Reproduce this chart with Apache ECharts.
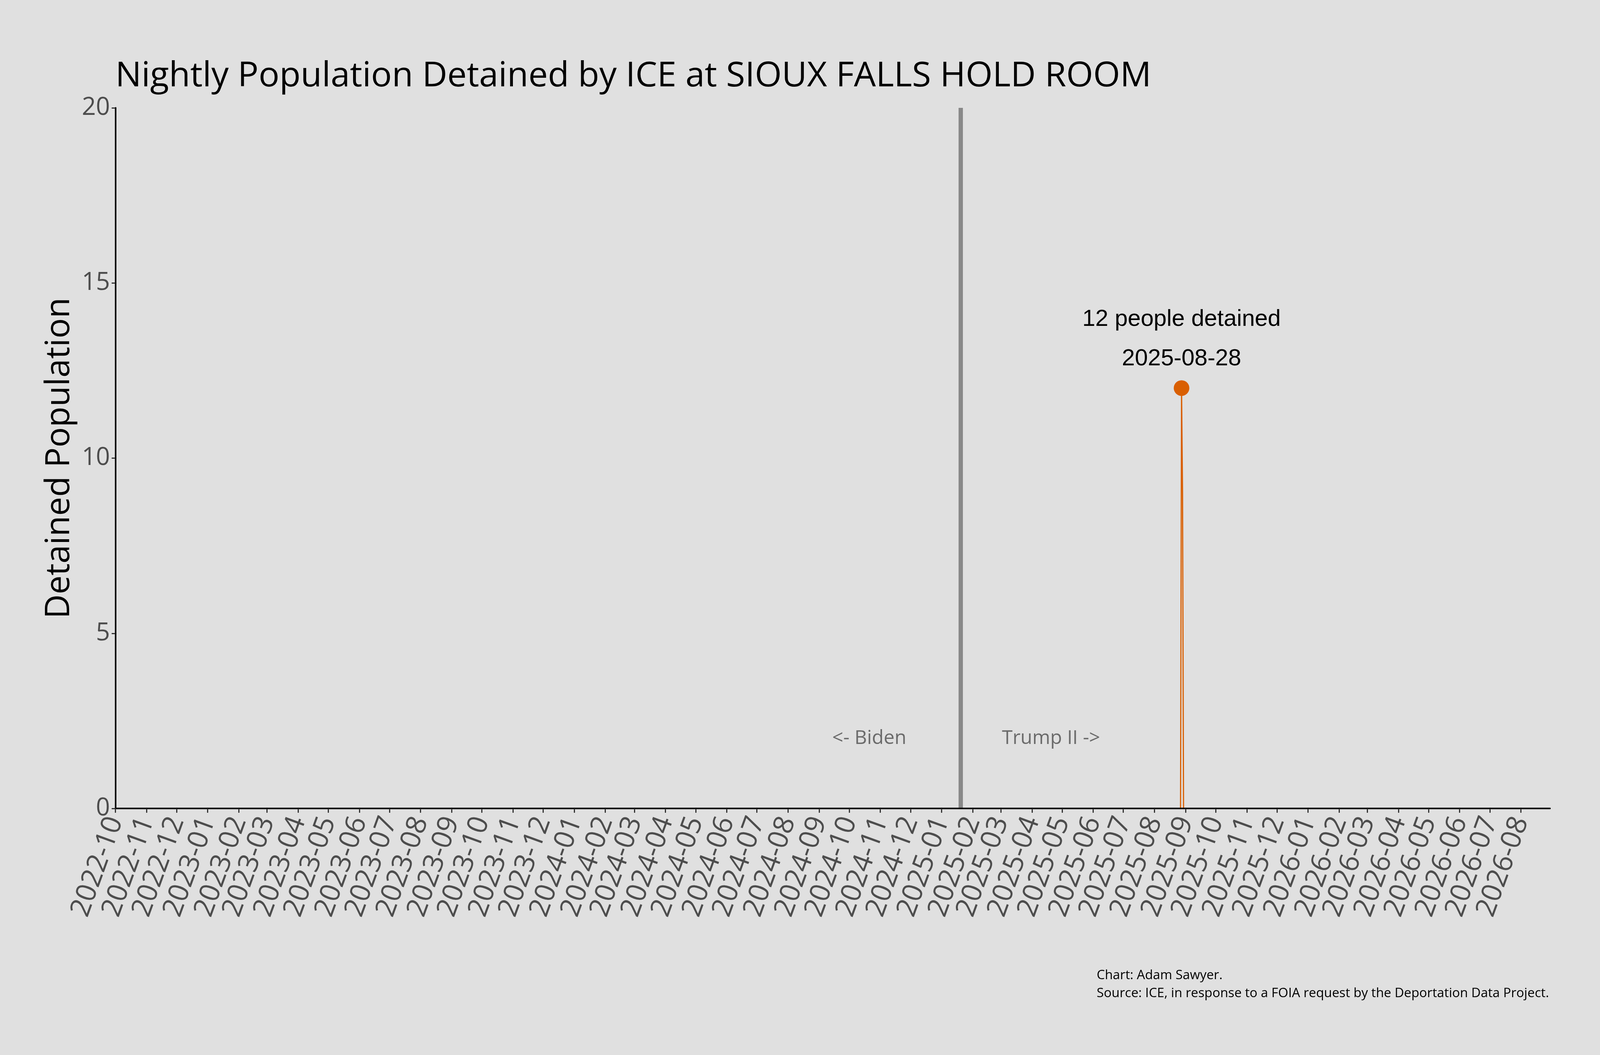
<!DOCTYPE html>
<html>
<head>
<meta charset="utf-8">
<script src="https://cdn.jsdelivr.net/npm/echarts@6/dist/echarts.min.js"></script>
<style>
  html, body { margin: 0; padding: 0; background: #e0e0e0; overflow: hidden; }
  #chart { width: 100vw; height: 100vh; }
</style>
</head>
<body>
<div id="chart"></div>
<script>
// nightly population, only the days where the value changes
var dates    = ['2022-10-01', '2025-08-27', '2025-08-28', '2025-08-29', '2025-08-30', '2025-10-15'];
var detained = [0, 0, 12, 9, 0, 0];

var peakDate = '2025-08-28';
var peakValue = 12;

var inaugurationDate = '2025-01-20';
var eraLabels = ['<- Biden', 'Trump II ->'];
var eraLabelDates = ['2024-10-21', '2025-04-20'];
var eraLabelLevel = 2;

var monthTicks = [
  '2022-10', '2022-11', '2022-12',
  '2023-01', '2023-02', '2023-03', '2023-04', '2023-05', '2023-06',
  '2023-07', '2023-08', '2023-09', '2023-10', '2023-11', '2023-12',
  '2024-01', '2024-02', '2024-03', '2024-04', '2024-05', '2024-06',
  '2024-07', '2024-08', '2024-09', '2024-10', '2024-11', '2024-12',
  '2025-01', '2025-02', '2025-03', '2025-04', '2025-05', '2025-06',
  '2025-07', '2025-08', '2025-09', '2025-10', '2025-11', '2025-12',
  '2026-01', '2026-02', '2026-03', '2026-04', '2026-05', '2026-06',
  '2026-07', '2026-08'
];
var xStart = '2022-10-01';
var xEnd = '2026-08-30';

function ts(s) { return +echarts.time.parse(s); }

var el = document.getElementById('chart');
var chart = echarts.init(el);
// laid out for 4800x2700, scaled to whatever the window really is
var k = el.clientWidth / 4800;
var ky = el.clientHeight / 2700;
function px(v) { return Math.round(v * k * 100) / 100; }
function py(v) { return Math.round(v * ky * 100) / 100; }

var tickValues = monthTicks.map(function (m) { return ts(m + '-01'); });
var lineData = dates.map(function (d, i) { return [ts(d), detained[i]]; });
var eraData = eraLabels.map(function (t, i) {
  return { value: [ts(eraLabelDates[i]), eraLabelLevel], name: t };
});

var option = {
  backgroundColor: '#e0e0e0',
  animation: false,
  title: {
    text: 'Nightly Population Detained by ICE at SIOUX FALLS HOLD ROOM',
    left: px(340),
    top: py(146),
    textStyle: {
      fontFamily: 'Open Sans',
      fontWeight: 'normal',
      fontSize: px(104),
      color: '#000'
    }
  },
  graphic: [{
    type: 'text',
    right: px(153),
    top: py(2474),
    style: {
      text: 'Chart: Adam Sawyer.\nSource: ICE, in response to a FOIA request by the Deportation Data Project.',
      align: 'right',
      fontFamily: 'Open Sans',
      fontSize: px(39),
      lineHeight: py(46),
      fill: '#000'
    }
  }],
  grid: {
    left: px(346),
    right: px(150),
    top: py(276),
    bottom: py(631),
    containLabel: false
  },
  xAxis: {
    type: 'value',
    min: ts(xStart),
    max: ts(xEnd),
    z: 5,
    splitLine: { show: false },
    axisLine: { lineStyle: { color: '#000', width: 4 } },
    axisTick: {
      length: py(11),
      lineStyle: { color: '#333', width: 3 },
      customValues: tickValues
    },
    axisLabel: {
      customValues: tickValues,
      rotate: 70,
      margin: py(24),
      fontFamily: 'Open Sans',
      fontSize: py(71),
      color: '#4d4d4d',
      hideOverlap: false,
      showMinLabel: true,
      showMaxLabel: true,
      formatter: function (v) {
        return echarts.time.format(v, '{yyyy}-{MM}', false);
      }
    }
  },
  yAxis: {
    type: 'value',
    min: 0,
    max: 20,
    interval: 5,
    z: 5,
    name: 'Detained Population',
    nameLocation: 'middle',
    nameRotate: 90,
    nameGap: px(117),
    nameTextStyle: {
      fontFamily: 'Open Sans',
      fontSize: py(86),
      color: '#000'
    },
    splitLine: { show: false },
    axisLine: { show: true, lineStyle: { color: '#000', width: 4 } },
    axisTick: {
      show: true,
      length: px(11),
      lineStyle: { color: '#333', width: 3 }
    },
    axisLabel: {
      margin: px(16),
      fontFamily: 'Open Sans',
      fontSize: px(74),
      color: '#4d4d4d'
    }
  },
  series: [
    {
      name: 'Detained',
      type: 'line',
      data: lineData,
      showSymbol: false,
      z: 2,
      lineStyle: { color: '#d95f02', width: 3 },
      markLine: {
        silent: true,
        symbol: ['none', 'none'],
        label: { show: false },
        lineStyle: { color: '#898989', width: px(13), type: 'solid' },
        data: [{ xAxis: ts(inaugurationDate) }]
      }
    },
    {
      name: 'Peak',
      type: 'scatter',
      data: [[ts(peakDate), peakValue]],
      symbolSize: py(40),
      z: 3,
      itemStyle: { color: '#d95f02', opacity: 1 },
      label: {
        show: true,
        position: 'top',
        distance: py(4),
        formatter: function () {
          return peakValue + ' people detained\n' + peakDate;
        },
        fontFamily: 'Liberation Sans',
        fontSize: px(70),
        lineHeight: py(101),
        color: '#000',
        align: 'center'
      }
    },
    {
      name: 'Eras',
      type: 'scatter',
      data: eraData,
      symbolSize: 0,
      silent: true,
      label: {
        show: true,
        position: 'inside',
        formatter: '{b}',
        fontFamily: 'Open Sans',
        fontSize: px(58),
        color: '#4d4d4d'
      }
    }
  ]
};

chart.setOption(option);
</script>
</body>
</html>
